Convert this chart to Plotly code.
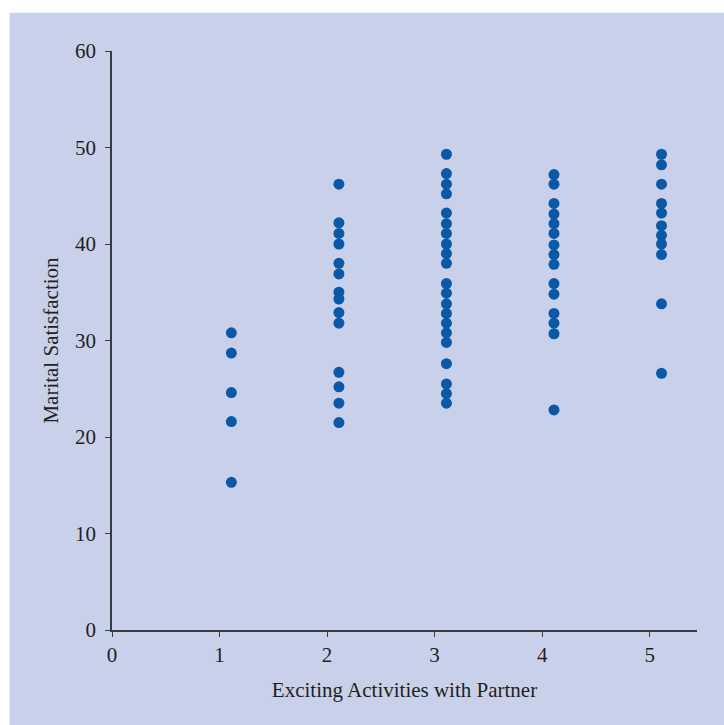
import plotly.graph_objects as go

# Number of exciting activities with partner (group positions on the x axis)
activity_levels = [1.11, 2.11, 3.11, 4.11, 5.11]

# Marital satisfaction scores observed at each activity level
sat_level1 = [30.8, 28.7, 24.6, 21.6, 15.3]
sat_level2 = [46.2, 42.2, 41.1, 40.0, 38.0, 36.9, 35.0, 34.3, 32.9, 31.8,
              26.7, 25.2, 23.5, 21.5]
sat_level3 = [49.3, 47.3, 46.2, 45.2, 43.2, 42.1, 41.1, 40.0, 39.0, 38.0,
              35.9, 34.9, 33.8, 32.8, 31.8, 30.8, 29.8, 27.6, 25.5, 24.5, 23.5]
sat_level4 = [47.2, 46.2, 44.2, 43.1, 42.1, 41.1, 39.9, 38.9, 37.9, 35.9,
              34.8, 32.8, 31.8, 30.7, 22.8]
sat_level5 = [49.3, 48.2, 46.2, 44.2, 43.2, 41.9, 40.9, 40.0, 38.9, 33.8, 26.6]

groups = [sat_level1, sat_level2, sat_level3, sat_level4, sat_level5]

xs, ys = [], []
for level, scores in zip(activity_levels, groups):
    xs.extend([level] * len(scores))
    ys.extend(scores)

x_ticks = [0, 1, 2, 3, 4, 5]
y_ticks = [0, 10, 20, 30, 40, 50, 60]

PANEL = "#c9d1ea"
INK = "#231f20"
AXIS = "#3a3a44"
DOT = "#0a58a6"
FONT = "Liberation Serif"
FS = 21

fig = go.Figure(
    go.Scatter(
        x=xs, y=ys, mode="markers",
        marker=dict(size=11, color=DOT, line=dict(width=0)),
        hoverinfo="x+y",
    )
)

fig.update_layout(
    width=724, height=725,
    paper_bgcolor="white",
    plot_bgcolor=PANEL,
    showlegend=False,
    margin=dict(l=112, r=27, t=51, b=95),
    font=dict(family=FONT, size=FS, color=INK),
    shapes=[
        dict(type="rect", xref="paper", yref="paper", layer="below",
             x0=-0.175, x1=1.2, y0=-0.3, y1=1.066,
             fillcolor=PANEL, line=dict(width=0)),
    ],
)

fig.update_xaxes(
    range=[0, 5.44], tickvals=x_ticks, ticktext=[str(t) for t in x_ticks],
    showgrid=False, zeroline=False,
    showline=True, linecolor=AXIS, linewidth=1.5,
    ticks="outside", ticklen=5, tickwidth=1.2, tickcolor=AXIS,
    tickfont=dict(family=FONT, size=FS, color=INK),
    title=dict(text="Exciting Activities with Partner",
               font=dict(family=FONT, size=FS, color=INK), standoff=16),
)

fig.update_yaxes(
    range=[0, 60], tickvals=y_ticks, ticktext=[str(t) for t in y_ticks],
    showgrid=False, zeroline=False,
    showline=True, linecolor=AXIS, linewidth=1.5,
    ticks="outside", ticklen=5, tickwidth=1.2, tickcolor=AXIS,
    ticklabelstandoff=5,
    tickfont=dict(family=FONT, size=FS, color=INK),
    title=dict(text="Marital Satisfaction",
               font=dict(family=FONT, size=FS, color=INK), standoff=11),
)

fig.write_html("out.html")
